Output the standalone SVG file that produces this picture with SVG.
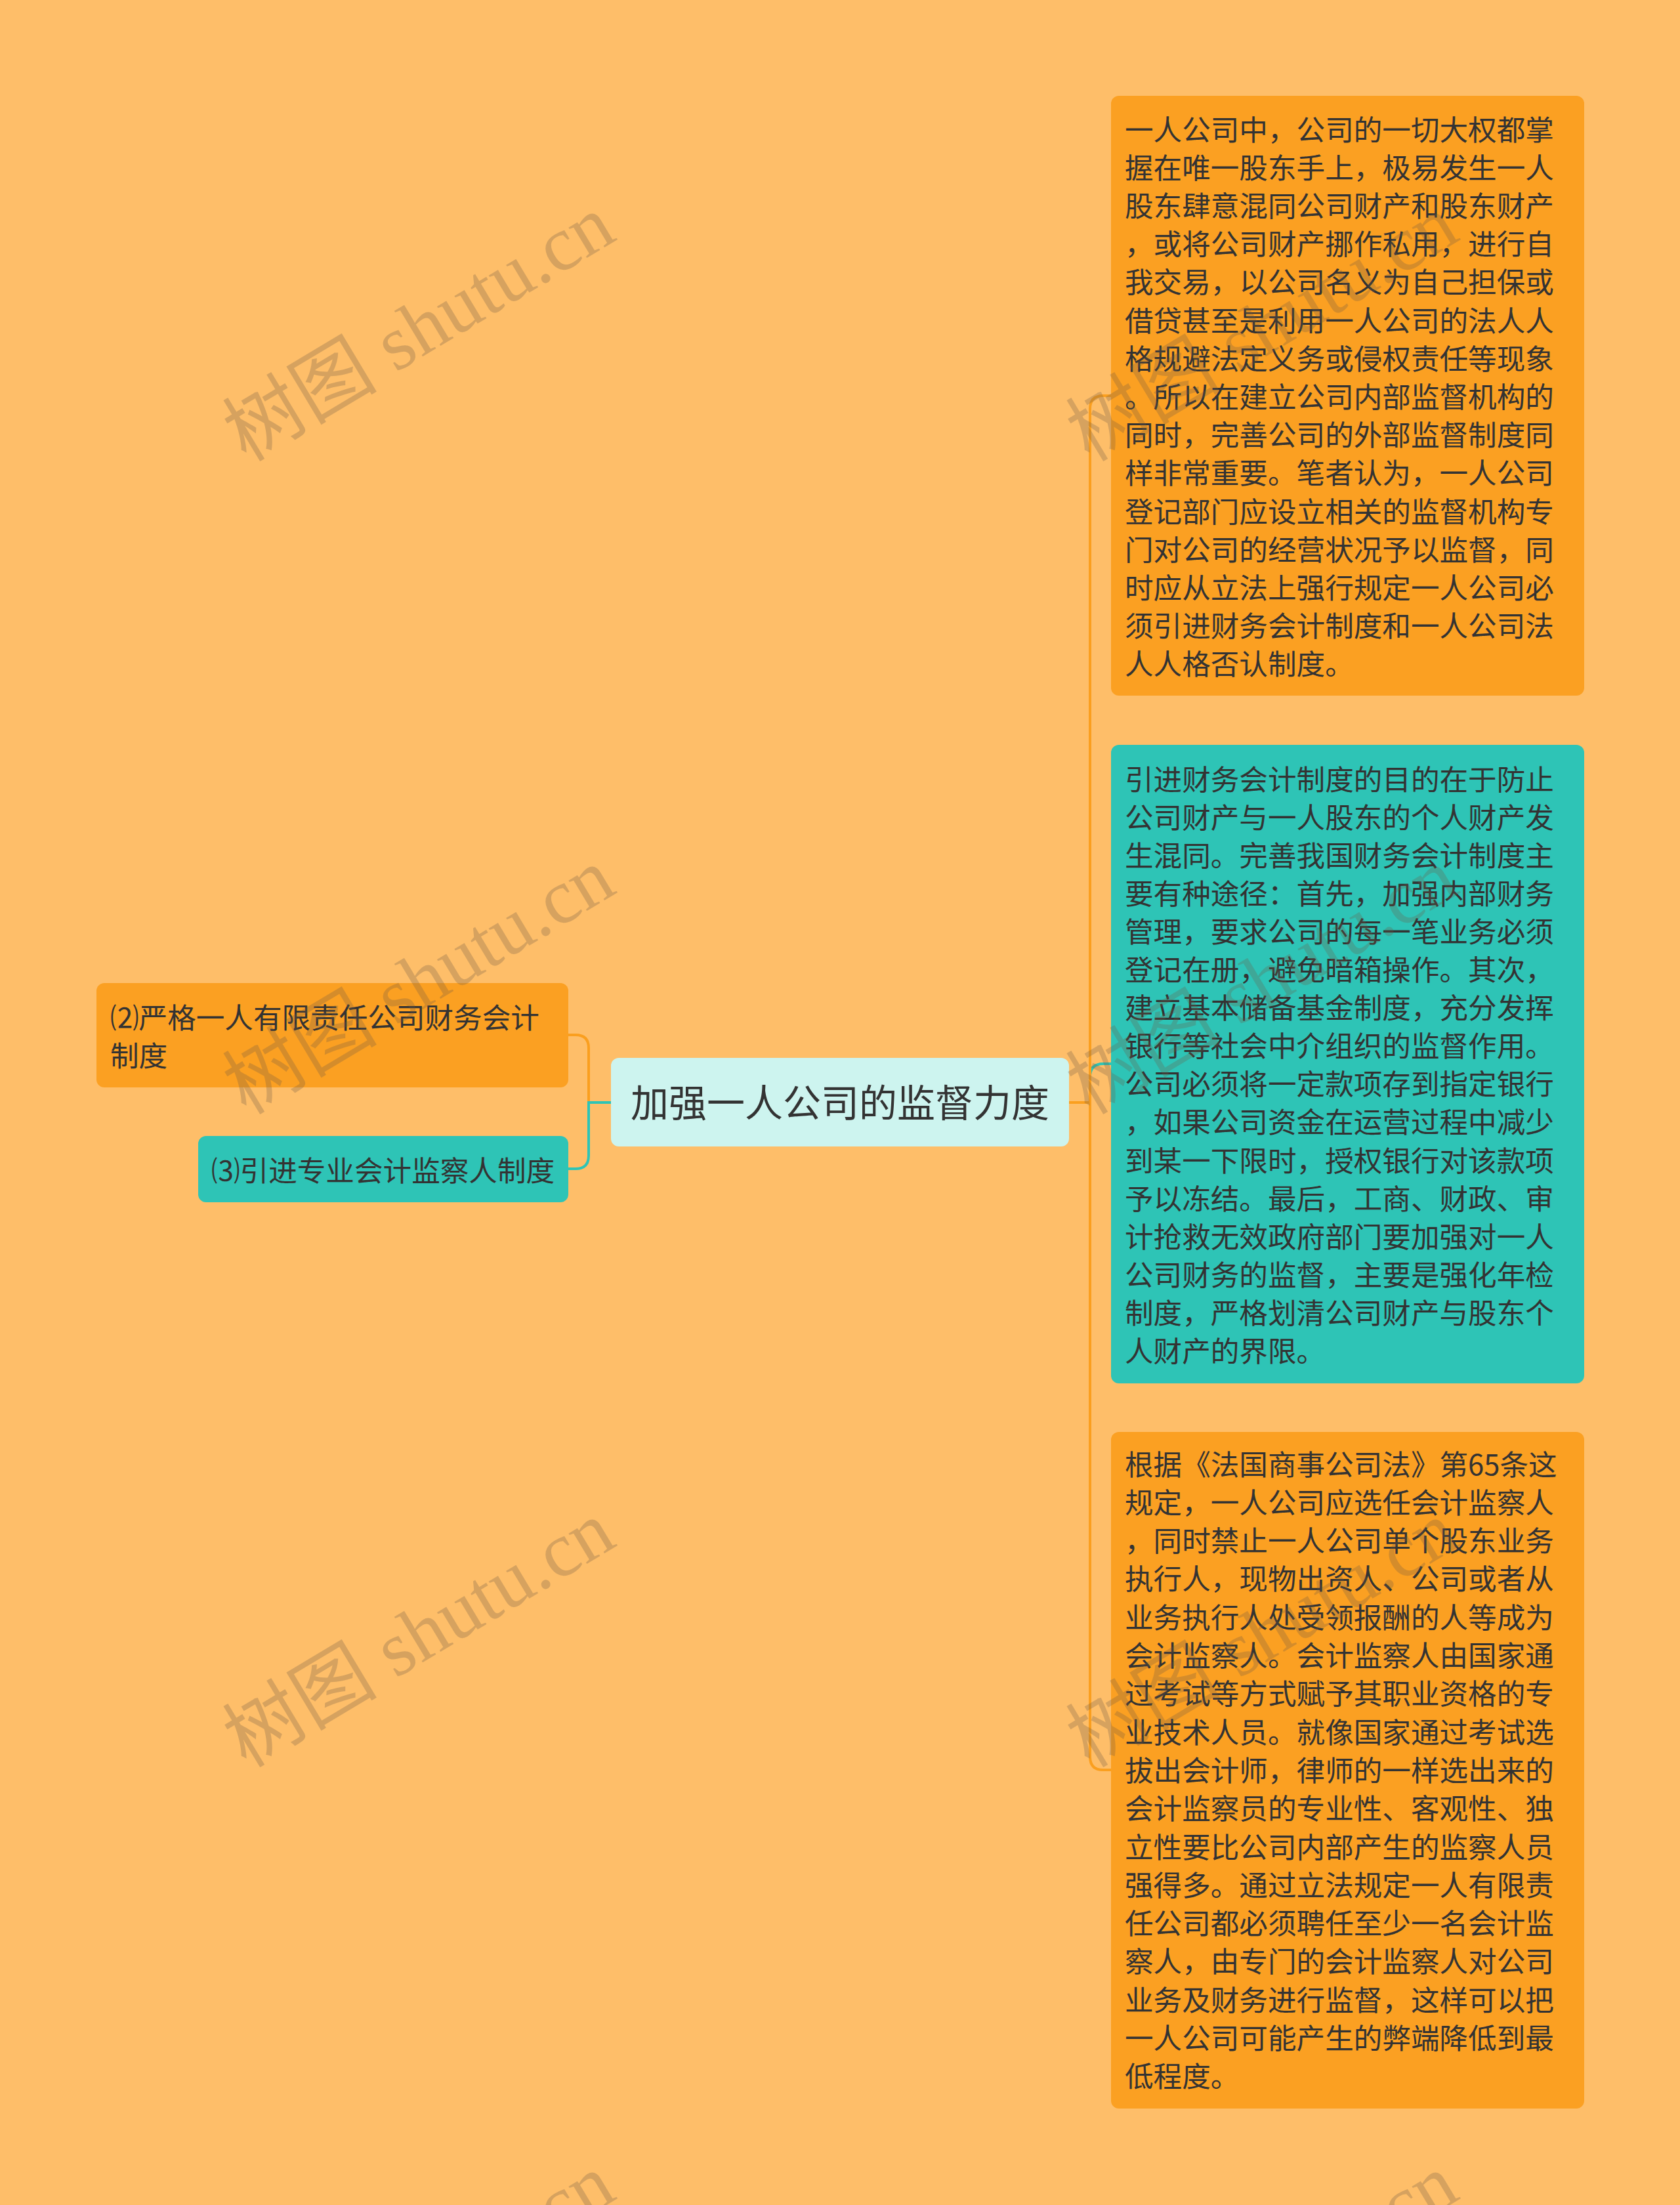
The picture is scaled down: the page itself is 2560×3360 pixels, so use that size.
<svg xmlns="http://www.w3.org/2000/svg" width="2560" height="3360" viewBox="0 0 2560 3360">
<style>
.bg{fill:#FEBE69}
.orange{fill:#FBA022}
.teal{fill:#2EC4B6}
.center{fill:#CDF4EF}
.t{font-family:"Noto Sans CJK SC","Liberation Sans",sans-serif;fill:#333333}
.body{font-size:43.6px}
.title{font-size:58px;text-anchor:middle}
.lo{fill:none;stroke:#FA9F1F;stroke-width:4}
.lt{fill:none;stroke:#2EC4B6;stroke-width:4}
.wm{font-family:"Liberation Serif","Noto Sans CJK SC",serif;font-size:118px;fill:#6E5A46;opacity:0.27}
</style>
<rect class="bg" x="0" y="0" width="2560" height="3360"/>

<g id="connectors">
  <path class="lo" d="M931,1680 H897 V1597 Q897,1577 877,1577 H866"/>
  <path class="lt" d="M931,1680 H897 V1761 Q897,1781 877,1781 H866"/>
  <path class="lt" d="M1629,1680 H1661 V1641 Q1661,1621 1681,1621 H1693"/>
  <path class="lo" d="M1629,1680 H1661 V623 Q1661,603 1681,603 H1693"/>
  <path class="lo" d="M1629,1680 H1661 V2677 Q1661,2697 1681,2697 H1693"/>
</g>

<g id="center-node">
  <rect class="center" x="931" y="1612" width="698" height="135" rx="12"/>
  <text class="t title" x="1280" y="1702">加强一人公司的监督力度</text>
</g>

<g id="left-node-2">
  <rect class="orange" x="147" y="1498" width="719" height="159" rx="12"/>
  <text class="t body" x="168" y="1566.5">⑵严格一人有限责任公司财务会计</text>
  <text class="t body" x="168" y="1624.5">制度</text>
</g>

<g id="left-node-3">
  <rect class="teal" x="302" y="1731" width="564" height="101" rx="12"/>
  <text class="t body" x="322" y="1799.5">⑶引进专业会计监察人制度</text>
</g>

<g id="right-node-1">
  <rect class="orange" x="1693" y="146" width="721" height="914" rx="12"/>
  <text class="t body">
    <tspan x="1714" y="213.5">一人公司中，公司的一切大权都掌</tspan>
    <tspan x="1714" y="271.7">握在唯一股东手上，极易发生一人</tspan>
    <tspan x="1714" y="329.9">股东肆意混同公司财产和股东财产</tspan>
    <tspan x="1714" y="388.1">，或将公司财产挪作私用，进行自</tspan>
    <tspan x="1714" y="446.3">我交易，以公司名义为自己担保或</tspan>
    <tspan x="1714" y="504.5">借贷甚至是利用一人公司的法人人</tspan>
    <tspan x="1714" y="562.7">格规避法定义务或侵权责任等现象</tspan>
    <tspan x="1714" y="620.9">。所以在建立公司内部监督机构的</tspan>
    <tspan x="1714" y="679.1">同时，完善公司的外部监督制度同</tspan>
    <tspan x="1714" y="737.3">样非常重要。笔者认为，一人公司</tspan>
    <tspan x="1714" y="795.5">登记部门应设立相关的监督机构专</tspan>
    <tspan x="1714" y="853.7">门对公司的经营状况予以监督，同</tspan>
    <tspan x="1714" y="911.9">时应从立法上强行规定一人公司必</tspan>
    <tspan x="1714" y="970.1">须引进财务会计制度和一人公司法</tspan>
    <tspan x="1714" y="1028.3">人人格否认制度。</tspan>
  </text>
</g>

<g id="right-node-2">
  <rect class="teal" x="1693" y="1135" width="721" height="973" rx="12"/>
  <text class="t body">
    <tspan x="1714" y="1203.5">引进财务会计制度的目的在于防止</tspan>
    <tspan x="1714" y="1261.6">公司财产与一人股东的个人财产发</tspan>
    <tspan x="1714" y="1319.7">生混同。完善我国财务会计制度主</tspan>
    <tspan x="1714" y="1377.8">要有种途径：首先，加强内部财务</tspan>
    <tspan x="1714" y="1435.9">管理，要求公司的每一笔业务必须</tspan>
    <tspan x="1714" y="1494.0">登记在册，避免暗箱操作。其次，</tspan>
    <tspan x="1714" y="1552.1">建立基本储备基金制度，充分发挥</tspan>
    <tspan x="1714" y="1610.2">银行等社会中介组织的监督作用。</tspan>
    <tspan x="1714" y="1668.3">公司必须将一定款项存到指定银行</tspan>
    <tspan x="1714" y="1726.4">，如果公司资金在运营过程中减少</tspan>
    <tspan x="1714" y="1784.5">到某一下限时，授权银行对该款项</tspan>
    <tspan x="1714" y="1842.6">予以冻结。最后，工商、财政、审</tspan>
    <tspan x="1714" y="1900.7">计抢救无效政府部门要加强对一人</tspan>
    <tspan x="1714" y="1958.8">公司财务的监督，主要是强化年检</tspan>
    <tspan x="1714" y="2016.9">制度，严格划清公司财产与股东个</tspan>
    <tspan x="1714" y="2075.0">人财产的界限。</tspan>
  </text>
</g>

<g id="right-node-3">
  <rect class="orange" x="1693" y="2182" width="721" height="1031" rx="12"/>
  <text class="t body">
    <tspan x="1714" y="2247.5">根据《法国商事公司法》第65条这</tspan>
    <tspan x="1714" y="2305.8">规定，一人公司应选任会计监察人</tspan>
    <tspan x="1714" y="2364.1">，同时禁止一人公司单个股东业务</tspan>
    <tspan x="1714" y="2422.4">执行人，现物出资人、公司或者从</tspan>
    <tspan x="1714" y="2480.7">业务执行人处受领报酬的人等成为</tspan>
    <tspan x="1714" y="2539.0">会计监察人。会计监察人由国家通</tspan>
    <tspan x="1714" y="2597.3">过考试等方式赋予其职业资格的专</tspan>
    <tspan x="1714" y="2655.6">业技术人员。就像国家通过考试选</tspan>
    <tspan x="1714" y="2713.9">拔出会计师，律师的一样选出来的</tspan>
    <tspan x="1714" y="2772.2">会计监察员的专业性、客观性、独</tspan>
    <tspan x="1714" y="2830.5">立性要比公司内部产生的监察人员</tspan>
    <tspan x="1714" y="2888.8">强得多。通过立法规定一人有限责</tspan>
    <tspan x="1714" y="2947.1">任公司都必须聘任至少一名会计监</tspan>
    <tspan x="1714" y="3005.4">察人，由专门的会计监察人对公司</tspan>
    <tspan x="1714" y="3063.7">业务及财务进行监督，这样可以把</tspan>
    <tspan x="1714" y="3122.0">一人公司可能产生的弊端降低到最</tspan>
    <tspan x="1714" y="3180.3">低程度。</tspan>
  </text>
</g>

<g id="watermarks">
  <text class="wm" transform="translate(375,705) rotate(-31)">树图 shutu.cn</text>
  <text class="wm" transform="translate(375,1700) rotate(-31)">树图 shutu.cn</text>
  <text class="wm" transform="translate(375,2695) rotate(-31)">树图 shutu.cn</text>
  <text class="wm" transform="translate(375,3690) rotate(-31)">树图 shutu.cn</text>
  <text class="wm" transform="translate(1660,705) rotate(-31)">树图 shutu.cn</text>
  <text class="wm" transform="translate(1660,1700) rotate(-31)">树图 shutu.cn</text>
  <text class="wm" transform="translate(1660,2695) rotate(-31)">树图 shutu.cn</text>
  <text class="wm" transform="translate(1660,3690) rotate(-31)">树图 shutu.cn</text>
</g>
</svg>
